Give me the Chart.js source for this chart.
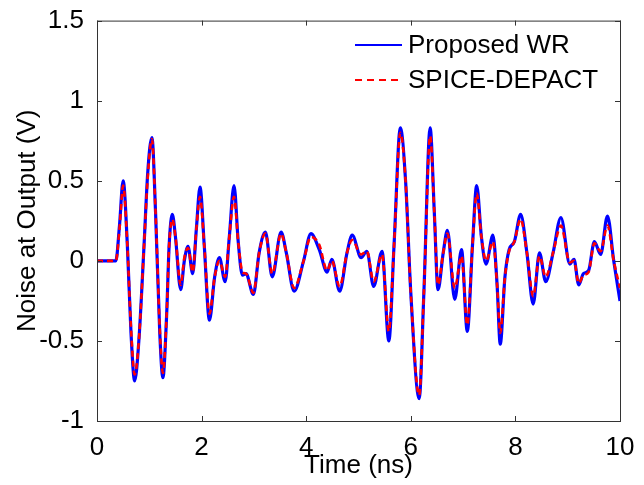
<!DOCTYPE html>
<html>
<head>
<meta charset="utf-8">
<script src="https://cdn.jsdelivr.net/npm/chart.js@4"></script>
<style>
  html, body { margin: 0; padding: 0; background: #fff; }
  #wrap { width: 644px; height: 485px; }
</style>
</head>
<body>
<div id="wrap"><canvas id="noiseChart" width="644" height="485"></canvas></div>
<script>
// time in ns, values in V
const timeNs = [0, 0.36, 0.43, 0.5, 0.58, 0.65, 0.72, 0.8, 0.9, 0.97, 1.05, 1.12, 1.2, 1.26, 1.33, 1.38, 1.44, 1.5, 1.6, 1.67,
  1.74, 1.83, 1.9, 1.97, 2.05, 2.15, 2.25, 2.34, 2.45, 2.53, 2.62, 2.7, 2.78, 2.85, 2.99, 3.1, 3.22, 3.35, 3.52, 3.62,
  3.77, 3.95, 4.09, 4.25, 4.4, 4.49, 4.64, 4.78, 4.88, 5.05, 5.16, 5.29, 5.45, 5.58, 5.68, 5.8, 5.9, 6.0, 6.16, 6.25,
  6.37, 6.45, 6.52, 6.62, 6.7, 6.84, 6.97, 7.08, 7.18, 7.26, 7.35, 7.44, 7.57, 7.65, 7.71, 7.8, 7.88, 7.98, 8.1, 8.22,
  8.34, 8.46, 8.58, 8.72, 8.87, 9.04, 9.12, 9.21, 9.3, 9.4, 9.51, 9.63, 9.76, 9.88, 10];

const proposedWR = [0, 0, 0.22, 0.50, 0.1, -0.45, -0.75, -0.5, 0.1, 0.55, 0.77, 0.3, -0.45, -0.73, -0.35, 0.1, 0.29, 0.15, -0.18, 0.0,
  0.09, -0.08, 0.2, 0.46, 0.1, -0.37, -0.1, 0.02, -0.13, 0.15, 0.47, 0.12, -0.09, -0.08, -0.21, 0.05, 0.18, -0.10, 0.18, 0.05,
  -0.19, 0.0, 0.17, 0.07, -0.07, 0.01, -0.19, 0.05, 0.16, 0.02, 0.06, -0.16, 0.06, -0.50, 0.1, 0.83, 0.5, -0.2, -0.86, -0.2,
  0.83, 0.3, -0.18, 0.05, 0.19, -0.24, 0.07, -0.44, 0.1, 0.47, 0.15, -0.02, 0.16, -0.15, -0.52, -0.1, 0.07, 0.12, 0.29, 0.05,
  -0.27, 0.05, -0.13, 0.05, 0.27, -0.02, 0.01, -0.15, -0.08, -0.06, 0.12, 0.04, 0.28, 0.0, -0.25];

const spiceDepact = [0, 0, 0.2, 0.47, 0.1, -0.42, -0.71, -0.5, 0.1, 0.52, 0.76, 0.3, -0.42, -0.70, -0.35, 0.1, 0.26, 0.15, -0.15, 0.02,
  0.08, -0.07, 0.2, 0.40, 0.1, -0.33, -0.1, 0.0, -0.10, 0.15, 0.40, 0.12, -0.07, -0.08, -0.20, 0.05, 0.17, -0.08, 0.17, 0.05,
  -0.17, 0.0, 0.15, 0.1, -0.06, 0.0, -0.16, 0.05, 0.13, 0.04, 0.06, -0.13, 0.04, -0.44, 0.1, 0.80, 0.5, -0.2, -0.84, -0.2,
  0.78, 0.3, -0.15, 0.05, 0.17, -0.17, 0.03, -0.40, 0.1, 0.42, 0.15, 0.0, 0.12, -0.15, -0.45, -0.1, 0.06, 0.12, 0.26, 0.05,
  -0.22, 0.03, -0.10, 0.05, 0.22, -0.01, 0.0, -0.14, -0.09, -0.07, 0.11, 0.06, 0.22, 0.0, -0.17];

const seriesNames = ['Proposed WR', 'SPICE-DEPACT'];
const xTicks = [0, 2, 4, 6, 8, 10];
const yTicks = [-1, -0.5, 0, 0.5, 1, 1.5];

const FONT = 'Arial, "Liberation Sans", sans-serif';
const FONT_SIZE = 26;

function toPoints(vals) {
  return timeNs.map((t, i) => ({ x: t, y: vals[i] }));
}

// box around the plot with MATLAB-style inward ticks, plus the legend
const matlabBox = {
  id: 'matlabBox',
  afterDraw(chart) {
    const { ctx, chartArea: a, scales } = chart;
    ctx.save();
    ctx.strokeStyle = '#333';
    ctx.lineWidth = 1;
    ctx.strokeRect(a.left + 0.5, a.top + 0.5, a.right - a.left, a.bottom - a.top);
    ctx.beginPath();
    xTicks.forEach(v => {
      const px = Math.round(scales.x.getPixelForValue(v)) + 0.5;
      ctx.moveTo(px, a.bottom); ctx.lineTo(px, a.bottom - 5);
      ctx.moveTo(px, a.top); ctx.lineTo(px, a.top + 5);
    });
    yTicks.forEach(v => {
      const py = Math.round(scales.y.getPixelForValue(v)) + 0.5;
      ctx.moveTo(a.left, py); ctx.lineTo(a.left + 5, py);
      ctx.moveTo(a.right, py); ctx.lineTo(a.right - 5, py);
    });
    ctx.stroke();

    // legend
    const rows = [
      { y: 45, color: '#0000ff', dash: [] },
      { y: 80, color: '#ff0000', dash: [7, 5] }
    ];
    ctx.font = FONT_SIZE + 'px ' + FONT;
    ctx.textBaseline = 'middle';
    ctx.fillStyle = '#000';
    rows.forEach((r, i) => {
      ctx.beginPath();
      ctx.setLineDash(r.dash);
      ctx.strokeStyle = r.color;
      ctx.lineWidth = 2;
      ctx.moveTo(355, r.y); ctx.lineTo(402, r.y);
      ctx.stroke();
      ctx.setLineDash([]);
      ctx.fillText(seriesNames[i], 408, r.y + 1);
    });
    ctx.restore();
  }
};

const ctx = document.getElementById('noiseChart').getContext('2d');
new Chart(ctx, {
  type: 'line',
  data: {
    datasets: [
      {
        label: seriesNames[0],
        data: toPoints(proposedWR),
        borderColor: '#0000ff',
        borderWidth: 3.2,
        pointRadius: 0,
        cubicInterpolationMode: 'monotone',
        fill: false,
        order: 2
      },
      {
        label: seriesNames[1],
        data: toPoints(spiceDepact),
        borderColor: '#ff0000',
        borderWidth: 2.6,
        borderDash: [6, 4],
        pointRadius: 0,
        cubicInterpolationMode: 'monotone',
        fill: false,
        order: 1
      }
    ]
  },
  options: {
    responsive: false,
    animation: false,
    layout: { padding: { top: 16, right: 24, left: 0, bottom: 0 } },
    plugins: {
      legend: { display: false },
      tooltip: { enabled: false }
    },
    scales: {
      x: {
        type: 'linear',
        min: 0,
        max: 10,
        afterFit: s => { s.height = 64; },
        afterBuildTicks: s => { s.ticks = xTicks.map(v => ({ value: v })); },
        grid: { display: false },
        border: { display: false },
        ticks: {
          color: '#000',
          font: { family: FONT, size: FONT_SIZE },
          padding: 3,
          maxRotation: 0,
          callback: v => String(v)
        },
        title: {
          display: true,
          text: 'Time (ns)',
          color: '#000',
          font: { family: FONT, size: FONT_SIZE },
          padding: { top: 0, bottom: 4 }
        }
      },
      y: {
        type: 'linear',
        min: -1,
        max: 1.5,
        afterFit: s => { s.width = 97; },
        afterBuildTicks: s => { s.ticks = yTicks.map(v => ({ value: v })); },
        grid: { display: false },
        border: { display: false },
        ticks: {
          color: '#000',
          font: { family: FONT, size: FONT_SIZE },
          padding: 5,
          callback: v => String(v)
        },
        title: {
          display: true,
          text: 'Noise at Output (V)',
          color: '#000',
          font: { family: FONT, size: FONT_SIZE },
          padding: { top: 12, bottom: 0 }
        }
      }
    }
  },
  plugins: [matlabBox]
});
</script>
</body>
</html>
